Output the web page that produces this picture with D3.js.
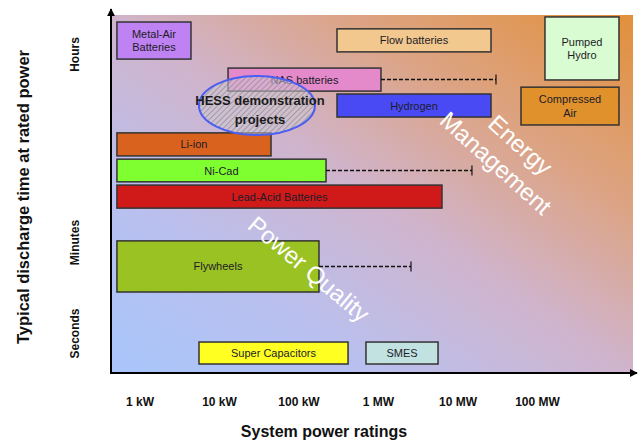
<!DOCTYPE html>
<html>
<head>
<meta charset="utf-8">
<script src="https://cdn.jsdelivr.net/npm/d3@7/dist/d3.min.js"></script>
<style>
  html, body { margin: 0; padding: 0; background: #fff; }
  svg { display: block; font-family: "Liberation Sans", Arial, sans-serif; }
</style>
</head>
<body>
<svg id="chart" width="638" height="443"></svg>
<script>
// ---------------- Data ----------------
const technologies = ["Metal-Air Batteries", "Flow batteries", "Pumped Hydro", "NAS batteries",
  "Hydrogen", "Compressed Air", "Li-ion", "Ni-Cad", "Lead-Acid Batteries", "Flywheels",
  "Super Capacitors", "SMES"];
const labelLines = [["Metal-Air", "Batteries"], ["Flow batteries"], ["Pumped", "Hydro"], ["NAS batteries"],
  ["Hydrogen"], ["Compressed", "Air"], ["Li-ion"], ["Ni-Cad"], ["Lead-Acid Batteries"], ["Flywheels"],
  ["Super Capacitors"], ["SMES"]];
// system power rating range (kW)
const powerMinKW = [0.52, 305, 126000, 13, 305, 62900, 0.52, 0.52, 0.52, 0.52, 5.6, 706];
const powerMaxKW = [4.44, 26400, 1075000, 1090, 26400, 1075000, 45.1, 222, 6380, 181, 420, 5690];
// discharge time (ordinal index: seconds ~1, minutes ~3.6, hours ~8.9)
const dischargeMin = [8.72, 8.92, 8.14, 7.83, 7.11, 6.89, 6.03, 5.31, 4.58, 2.25, 0.25, 0.25];
const dischargeMax = [9.75, 9.56, 9.89, 8.47, 7.75, 7.94, 6.67, 5.94, 5.22, 3.67, 0.86, 0.86];
const barColors = ["#bf82f2", "#f2c88f", "#dafcd2", "#e48acb", "#4a4af5", "#e0912c", "#d9621f",
  "#80ff30", "#d01a1a", "#9ac222", "#ffff22", "#c2e2e2"];

// dashed extensions (potential range)
const extTech = ["NAS batteries", "Ni-Cad", "Flywheels"];
const extEndKW = [30500, 15200, 2600];

// HESS demonstration projects region
const hessPowerKW = [5.6, 161];
const hessDischarge = [6.61, 8.25];

// axes
const powerTicks = [1, 10, 100, 1000, 10000, 100000];
const powerTickLabels = ["1 kW", "10 kW", "100 kW", "1 MW", "10 MW", "100 MW"];
const dischargeTicks = [1.11, 3.64, 8.86];
const dischargeTickLabels = ["Seconds", "Minutes", "Hours"];

// ---------------- Chart ----------------
const svg = d3.select("#chart");
const plotLeft = 111, plotRight = 633, plotTop = 15, plotBottom = 373;

const x = d3.scaleLog().domain([0.438, 1.567e6]).range([plotLeft, 632]);
const y = d3.scaleLinear().domain([0, 10]).range([plotBottom, 13]);

const defs = svg.append("defs");
const grad = defs.append("linearGradient").attr("id", "bg")
  .attr("x1", 0).attr("y1", 1).attr("x2", 1).attr("y2", 0);
grad.append("stop").attr("offset", "0").attr("stop-color", "#a9c6fb");
grad.append("stop").attr("offset", "0.25").attr("stop-color", "#b9c0ef");
grad.append("stop").attr("offset", "0.5").attr("stop-color", "#d0b4cc");
grad.append("stop").attr("offset", "0.72").attr("stop-color", "#dca486");
grad.append("stop").attr("offset", "1").attr("stop-color", "#e2903a");

const pat = defs.append("pattern").attr("id", "hatch").attr("patternUnits", "userSpaceOnUse")
  .attr("width", 4).attr("height", 4).attr("patternTransform", "rotate(45)");
pat.append("rect").attr("width", 4).attr("height", 4).attr("fill", "rgba(205,200,210,0.55)");
pat.append("line").attr("x1", 0).attr("y1", 0).attr("x2", 0).attr("y2", 4)
  .attr("stroke", "#7a7a80").attr("stroke-width", 1.1);

defs.append("marker").attr("id", "arrow").attr("viewBox", "0 0 10 10")
  .attr("refX", 9).attr("refY", 5).attr("markerWidth", 4).attr("markerHeight", 4)
  .attr("markerUnits", "strokeWidth").attr("orient", "auto")
  .append("path").attr("d", "M0,0 L10,5 L0,10 z").attr("fill", "#000");

// background
svg.append("rect").attr("x", plotLeft).attr("y", plotTop)
  .attr("width", plotRight - plotLeft).attr("height", plotBottom - plotTop)
  .attr("fill", "url(#bg)");

// bars
const idx = d3.range(technologies.length);
const bars = svg.append("g").selectAll("g").data(idx).join("g");
bars.append("rect")
  .attr("x", i => x(powerMinKW[i]))
  .attr("y", i => y(dischargeMax[i]))
  .attr("width", i => x(powerMaxKW[i]) - x(powerMinKW[i]))
  .attr("height", i => y(dischargeMin[i]) - y(dischargeMax[i]))
  .attr("fill", i => barColors[i])
  .attr("stroke", "#333").attr("stroke-width", 1.5);
bars.each(function(i) {
  const g = d3.select(this);
  const cx = (x(powerMinKW[i]) + x(powerMaxKW[i])) / 2;
  const cy = (y(dischargeMin[i]) + y(dischargeMax[i])) / 2;
  const lines = labelLines[i];
  const lh = 13.5;
  lines.forEach((t, k) => {
    g.append("text").attr("x", cx).attr("y", cy + (k - (lines.length - 1) / 2) * lh)
      .attr("text-anchor", "middle").attr("dominant-baseline", "central")
      .attr("font-size", 11).attr("fill", "#1c1c28").text(t);
  });
});

// dashed extensions
extTech.forEach((t, k) => {
  const i = technologies.indexOf(t);
  const cy = (y(dischargeMin[i]) + y(dischargeMax[i])) / 2;
  const x0 = x(powerMaxKW[i]), x1 = x(extEndKW[k]);
  svg.append("line").attr("x1", x0).attr("x2", x1).attr("y1", cy).attr("y2", cy)
    .attr("stroke", "#111").attr("stroke-width", 1.5).attr("stroke-dasharray", "4,2");
  svg.append("line").attr("x1", x1).attr("x2", x1).attr("y1", cy - 5).attr("y2", cy + 5)
    .attr("stroke", "#111").attr("stroke-width", 1.2);
});

// HESS ellipse
const ex0 = x(hessPowerKW[0]), ex1 = x(hessPowerKW[1]);
const ey0 = y(hessDischarge[1]), ey1 = y(hessDischarge[0]);
svg.append("ellipse").attr("cx", (ex0 + ex1) / 2).attr("cy", (ey0 + ey1) / 2)
  .attr("rx", (ex1 - ex0) / 2).attr("ry", (ey1 - ey0) / 2)
  .attr("fill", "url(#hatch)").attr("stroke", "#4a5ef2").attr("stroke-width", 2);
const hessText = svg.append("text").attr("text-anchor", "middle").attr("font-weight", "bold")
  .attr("font-size", 13).attr("fill", "#1a1a1a");
hessText.append("tspan").attr("x", (ex0 + ex1) / 2 + 3).attr("y", 105).text("HESS demonstration");
hessText.append("tspan").attr("x", (ex0 + ex1) / 2 + 3).attr("y", 124).text("projects");

// big white region labels
const em = svg.append("g").attr("transform", "translate(506,152) rotate(42)");
em.append("text").attr("x", 6).attr("y", -15).attr("text-anchor", "middle").attr("dominant-baseline", "central")
  .attr("font-size", 24).attr("fill", "#fff").text("Energy");
em.append("text").attr("x", 0).attr("y", 15).attr("text-anchor", "middle").attr("dominant-baseline", "central")
  .attr("font-size", 24).attr("fill", "#fff").text("Management");
svg.append("g").attr("transform", "translate(309,269) rotate(40)")
  .append("text").attr("text-anchor", "middle").attr("dominant-baseline", "central")
  .attr("font-size", 24).attr("fill", "#fff").text("Power Quality");

// axes lines with arrows
svg.append("line").attr("x1", plotLeft).attr("y1", plotBottom).attr("x2", plotLeft).attr("y2", 9)
  .attr("stroke", "#000").attr("stroke-width", 2).attr("marker-end", "url(#arrow)");
svg.append("line").attr("x1", plotLeft - 1).attr("y1", plotBottom).attr("x2", 637).attr("y2", plotBottom)
  .attr("stroke", "#000").attr("stroke-width", 2).attr("marker-end", "url(#arrow)");

// x tick labels
const xAxis = svg.append("g").attr("transform", `translate(0,${plotBottom})`)
  .call(d3.axisBottom(x).tickValues(powerTicks).tickSize(0).tickPadding(24)
    .tickFormat((d, i) => powerTickLabels[i]));
xAxis.select(".domain").remove();
xAxis.selectAll("text").attr("font-size", 12).attr("font-weight", "bold")
  .attr("font-family", "'Liberation Sans', Arial, sans-serif").attr("fill", "#111");

// y tick labels (rotated)
const yAxis = svg.append("g").attr("transform", `translate(${plotLeft},0)`)
  .call(d3.axisLeft(y).tickValues(dischargeTicks).tickSize(0)
    .tickFormat((d, i) => dischargeTickLabels[i]));
yAxis.select(".domain").remove();
yAxis.selectAll("text")
  .attr("x", 0).attr("y", -32).attr("dy", 0)
  .attr("transform", "rotate(-90)")
  .attr("text-anchor", "middle")
  .attr("font-size", 12).attr("font-weight", "bold")
  .attr("font-family", "'Liberation Sans', Arial, sans-serif").attr("fill", "#111");

// axis titles
svg.append("text").attr("x", 324).attr("y", 437).attr("text-anchor", "middle")
  .attr("font-size", 16).attr("font-weight", "bold").attr("fill", "#111").text("System power ratings");
svg.append("text").attr("transform", "translate(29,197) rotate(-90)").attr("text-anchor", "middle")
  .attr("font-size", 16.5).attr("font-weight", "bold").attr("fill", "#111")
  .text("Typical discharge time at rated power");
</script>
</body>
</html>
